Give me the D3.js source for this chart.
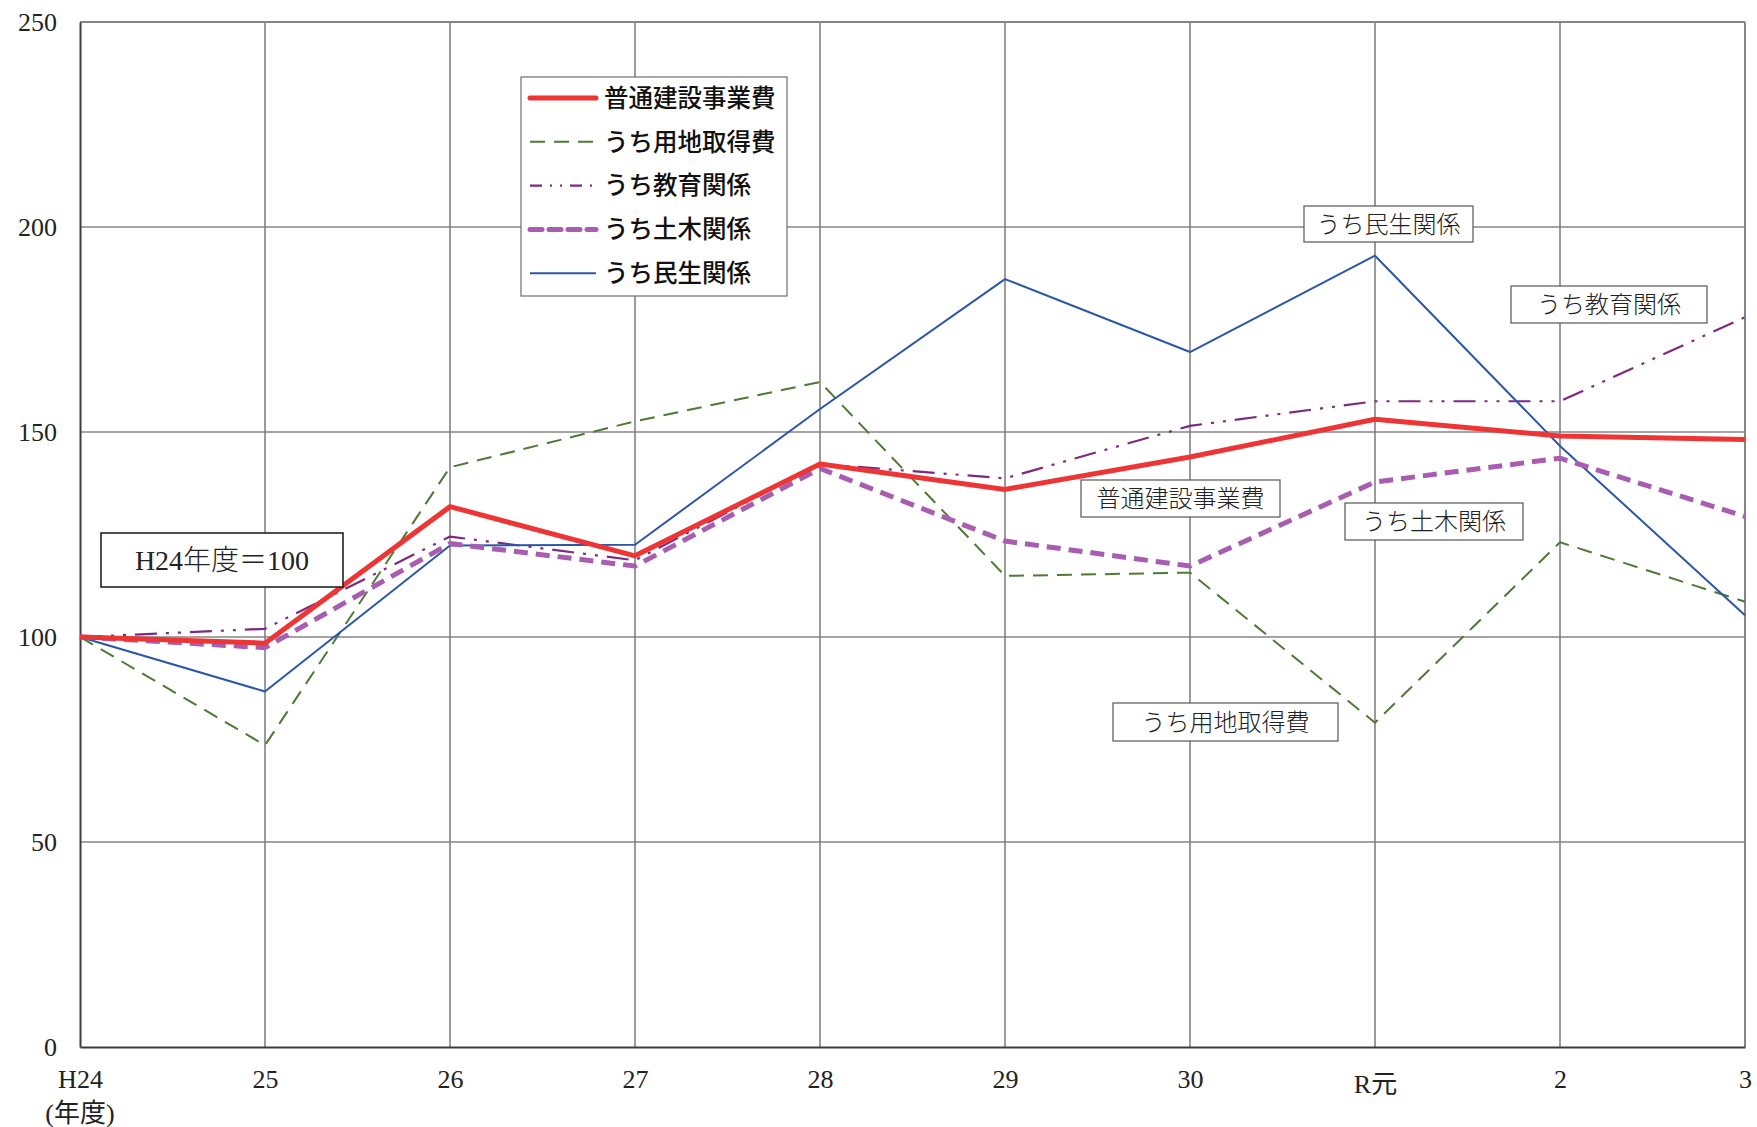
<!DOCTYPE html>
<html><head><meta charset="utf-8">
<script src="https://cdn.jsdelivr.net/npm/d3@7"></script>
<style>
body{margin:0;background:#fff;}
svg{display:block;}
</style></head>
<body><div id="chart"></div>
<script>
const categories = ["H24","25","26","27","28","29","30","R元","2","3"];
const seriesNames = ["普通建設事業費","うち用地取得費","うち教育関係","うち土木関係","うち民生関係"];
const general   = [100, 98.5, 131.8, 119.8, 142.2, 136.0, 143.9, 153.1, 149.0, 148.2];
const land      = [100, 73.6, 141.4, 152.6, 162.2, 114.9, 115.7, 79.1, 123.1, 108.6];
const education = [100, 102.0, 124.5, 118.7, 142.2, 138.7, 151.5, 157.5, 157.5, 178.0];
const civil     = [100, 97.4, 122.8, 117.3, 141.1, 123.4, 117.3, 137.8, 143.6, 129.4];
const welfare   = [100, 86.7, 122.3, 122.5, 155.6, 187.3, 169.5, 193.0, 146.6, 105.3];
const yTicks = [0, 50, 100, 150, 200, 250];
const noteText = "H24年度＝100";
const yearUnit = "(年度)";

(function(){
const W = 1757, H = 1127;
const pl = 80, pr = 1745, pt = 22, pb = 1047;
const serif = "'Liberation Serif','DejaVu Serif','Noto Sans CJK JP',serif";
const sans = "'Noto Sans CJK JP','Noto Sans',sans-serif";

const svg = d3.select("#chart").append("svg").attr("width", W).attr("height", H);
const x = d3.scalePoint().domain(categories).range([pl, pr]);
const y = d3.scaleLinear().domain([0, 250]).range([pb, pt]);

// gridlines
svg.append("g").selectAll("line").data(yTicks.filter(t => t > 0 && t < 250)).join("line")
  .attr("x1", pl).attr("x2", pr).attr("y1", d => y(d)).attr("y2", d => y(d))
  .attr("stroke", "#4a4a4a").attr("stroke-width", 1.2);
svg.append("g").selectAll("line").data(categories.slice(1, -1)).join("line")
  .attr("x1", d => x(d)).attr("x2", d => x(d)).attr("y1", pt).attr("y2", pb)
  .attr("stroke", "#7a7a7a").attr("stroke-width", 1.5);
// border
svg.append("line").attr("x1", pl).attr("x2", pr).attr("y1", pt).attr("y2", pt).attr("stroke", "#858585").attr("stroke-width", 2);
svg.append("line").attr("x1", pr).attr("x2", pr).attr("y1", pt).attr("y2", pb).attr("stroke", "#858585").attr("stroke-width", 2);

// axes
const yAxis = d3.axisLeft(y).tickValues(yTicks).tickSize(0).tickPadding(23);
const gy = svg.append("g").attr("transform", `translate(${pl},0)`).call(yAxis);
gy.select(".domain").attr("stroke", "#3c3c3c").attr("stroke-width", 2);
gy.selectAll("text").attr("font-family", serif).attr("font-size", 26).attr("fill", "#222");

const xAxis = d3.axisBottom(x).tickSize(0).tickPadding(25);
const gx = svg.append("g").attr("transform", `translate(0,${pb})`).call(xAxis);
gx.select(".domain").attr("stroke", "#3c3c3c").attr("stroke-width", 2);
gx.selectAll("text").attr("font-family", serif).attr("font-size", 26).attr("fill", "#222")
  .attr("dy", d => d === "R元" ? "0.82em" : "0.62em");
svg.append("text").attr("x", x(categories[0])).attr("y", 1122).attr("text-anchor", "middle")
  .attr("font-family", serif).attr("font-size", 26).attr("fill", "#222").text(yearUnit);

// series
const series = [
  {name: seriesNames[0], values: general,   color: "#ee3535", width: 5,   dash: null},
  {name: seriesNames[1], values: land,      color: "#4e7a36", width: 2,   dash: "15,9"},
  {name: seriesNames[2], values: education, color: "#7d2a80", width: 2.2, dash: "22,9,3,9,3,9"},
  {name: seriesNames[3], values: civil,     color: "#a85db0", width: 5,   dash: "14,8"},
  {name: seriesNames[4], values: welfare,   color: "#2c57a8", width: 2,   dash: null}
];
const line = d3.line().x((d, i) => x(categories[i])).y(d => y(d));
const drawOrder = [1, 2, 4, 3, 0];
drawOrder.forEach(k => {
  const s = series[k];
  svg.append("path").attr("d", line(s.values)).attr("fill", "none")
    .attr("stroke", s.color).attr("stroke-width", s.width)
    .attr("stroke-dasharray", s.dash).attr("stroke-linejoin", "round");
});

// legend
const lg = svg.append("g");
lg.append("rect").attr("x", 521).attr("y", 77).attr("width", 266).attr("height", 219)
  .attr("fill", "#fff").attr("stroke", "#6e6e6e").attr("stroke-width", 1.2);
series.forEach((s, i) => {
  const yy = 98 + i * 43.8;
  lg.append("line").attr("x1", 530).attr("x2", 596).attr("y1", yy).attr("y2", yy)
    .attr("stroke", s.color).attr("stroke-width", s.width)
    .attr("stroke-dasharray", i === 1 ? "15,9" : i === 2 ? "12,8,2,8,2,8" : i === 3 ? "12,7" : null)
    .attr("stroke-linecap", i === 0 || i === 3 ? "round" : "butt");
  lg.append("text").attr("x", 604).attr("y", yy).attr("dy", "0.36em")
    .attr("font-family", sans).attr("font-weight", 500).attr("font-size", 24.5).attr("fill", "#111").text(s.name);
});

// annotation boxes
const boxes = [
  {text: noteText,       x0: 101,  y0: 533, x1: 343,  y1: 587, size: 28, stroke: "#222", sw: 1.6},
  {text: seriesNames[4], x0: 1304, y0: 206, x1: 1473, y1: 242, size: 24, stroke: "#555", sw: 1.2},
  {text: seriesNames[2], x0: 1511, y0: 286, x1: 1707, y1: 323, size: 24, stroke: "#555", sw: 1.2},
  {text: seriesNames[0], x0: 1081, y0: 480, x1: 1280, y1: 517, size: 24, stroke: "#555", sw: 1.2},
  {text: seriesNames[3], x0: 1345, y0: 503, x1: 1523, y1: 540, size: 24, stroke: "#555", sw: 1.2},
  {text: seriesNames[1], x0: 1113, y0: 703, x1: 1338, y1: 741, size: 24, stroke: "#555", sw: 1.2}
];
boxes.forEach(b => {
  svg.append("rect").attr("x", b.x0).attr("y", b.y0).attr("width", b.x1 - b.x0).attr("height", b.y1 - b.y0)
    .attr("fill", "#fff").attr("stroke", b.stroke).attr("stroke-width", b.sw);
  svg.append("text").attr("x", (b.x0 + b.x1) / 2).attr("y", (b.y0 + b.y1) / 2).attr("dy", "0.36em")
    .attr("text-anchor", "middle").attr("font-family", serif).attr("font-weight", 300)
    .attr("font-size", b.size).attr("fill", "#222").text(b.text);
});
})();
</script></body></html>
